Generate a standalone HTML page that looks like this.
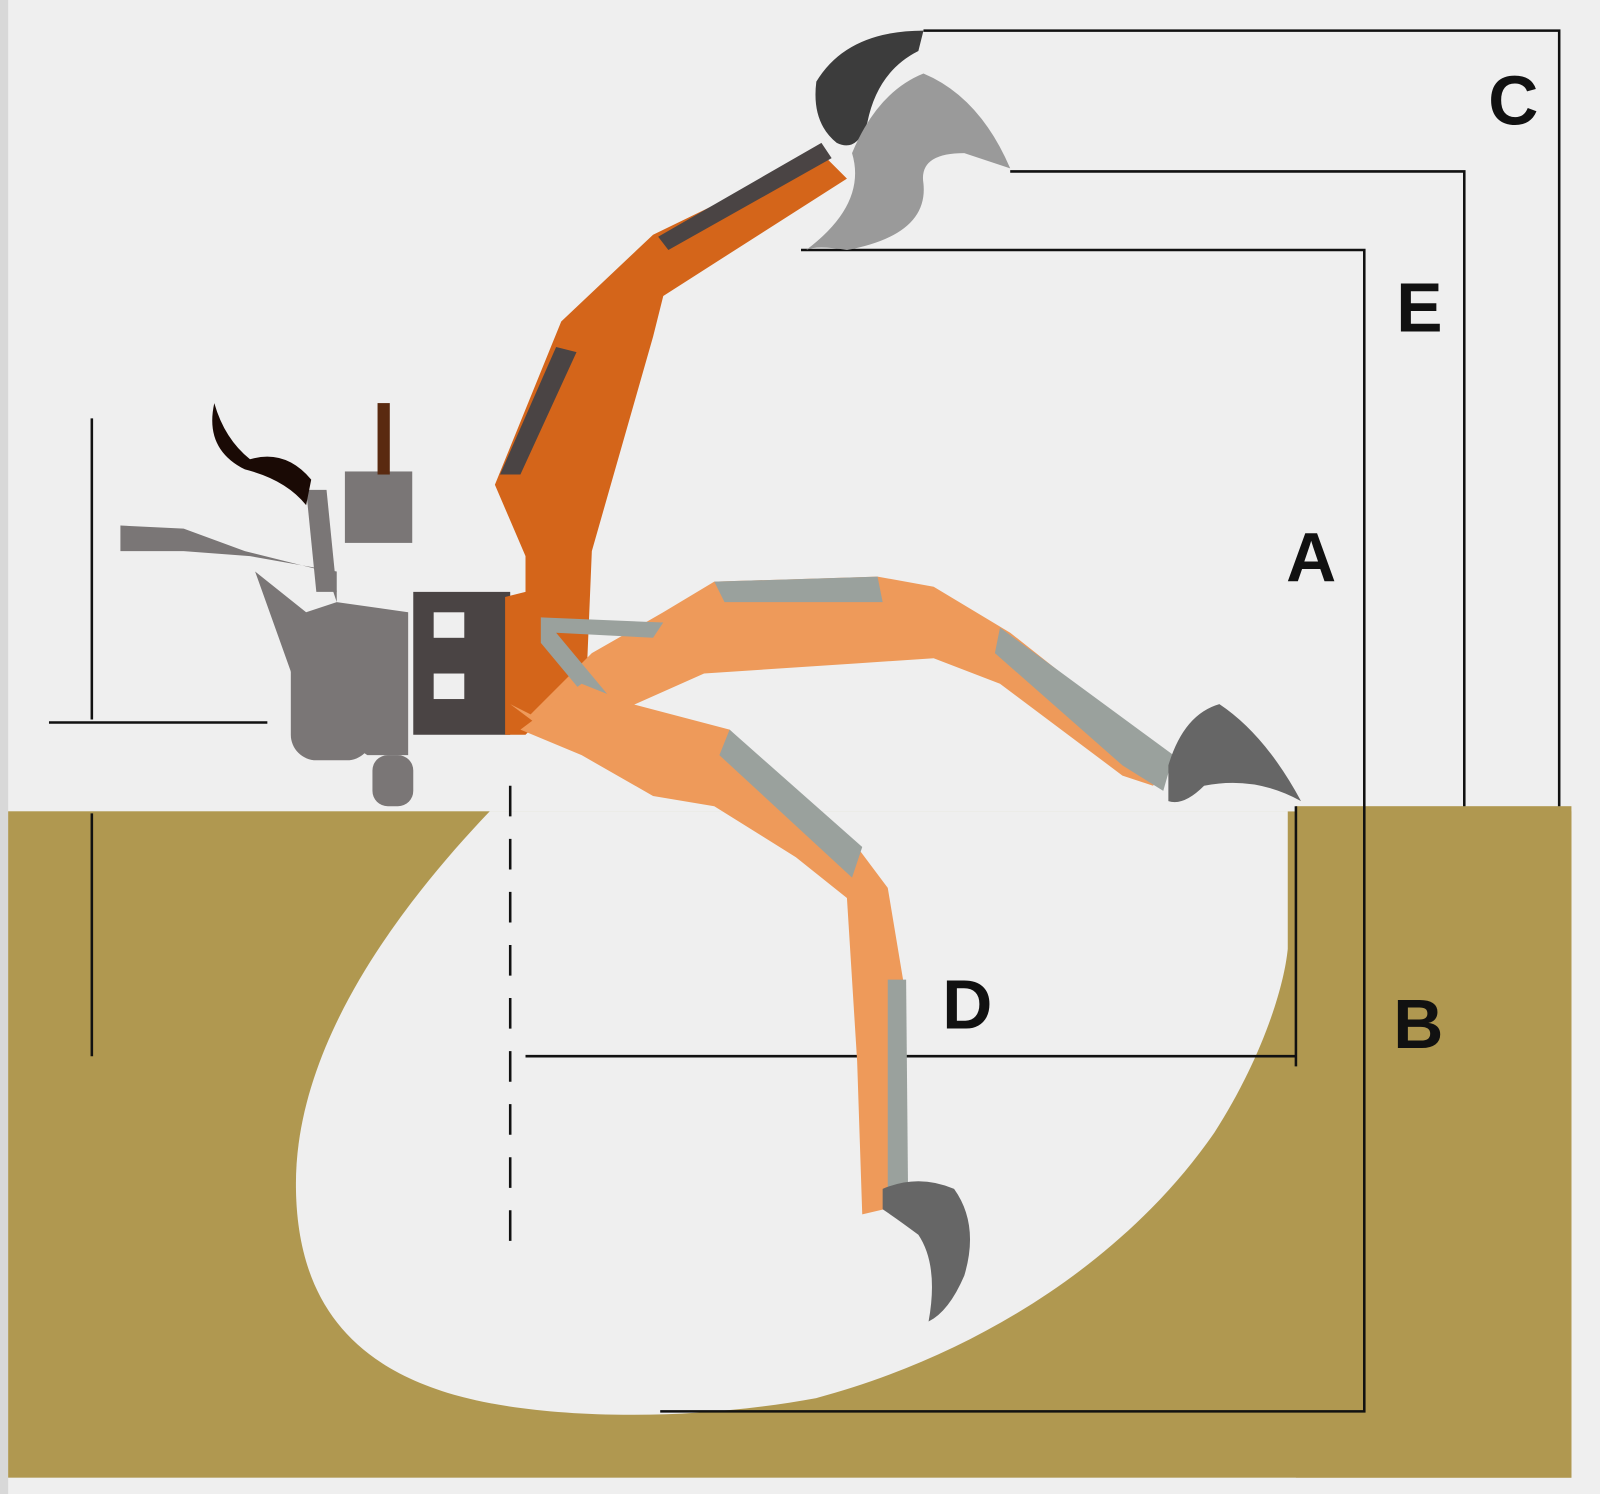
<!DOCTYPE html>
<html><head><style>html,body{margin:0;padding:0;background:#efefef;overflow:hidden;width:1600px;height:1494px}svg{display:block}</style></head>
<body>
<svg width="1600" height="1494" viewBox="0 0 1568 1464" preserveAspectRatio="none" xmlns="http://www.w3.org/2000/svg">
<rect width="1568" height="1464" fill="#efefef"/>
<rect x="0" y="0" width="8" height="1464" fill="#d8d8d8"/>
<!-- ground -->
<rect x="8" y="795" width="1532" height="653" fill="#b09850"/>
<path d="M480,795 C380,900 290,1030 290,1160 C290,1280 350,1350 480,1375 C560,1390 680,1392 800,1370 C950,1330 1100,1240 1190,1110 C1235,1040 1258,970 1262,930 L1262,795 Z" fill="#efefef"/>
<rect x="480" y="700" width="790" height="95" fill="#efefef"/>
<rect x="1270" y="700" width="270" height="90" fill="#efefef"/>
<rect x="1270" y="790" width="270" height="658" fill="#b09850"/>
<!-- dimension lines -->
<g stroke="#111" stroke-width="2.5" fill="none">
<polyline points="905,30 1528,30 1528,790"/>
<polyline points="990,168 1435,168 1435,790"/>
<polyline points="785,245 1337,245 1337,1383 647,1383"/>
<line x1="515" y1="1035" x2="1270" y2="1035"/>
<line x1="1270" y1="790" x2="1270" y2="1045"/>
<line x1="500" y1="770" x2="500" y2="1220" stroke-dasharray="30,22"/>
<line x1="90" y1="410" x2="90" y2="705"/>
<line x1="48" y1="708" x2="262" y2="708"/>
<line x1="90" y1="797" x2="90" y2="1035"/>
</g>
<!-- labels -->
<g font-family="Liberation Sans, sans-serif" font-weight="bold" font-size="68" fill="#111" text-anchor="middle">
<text x="1483" y="122">C</text>
<text x="1391" y="325">E</text>
<text x="1285" y="570">A</text>
<text x="1390" y="1027">B</text>
<text x="948" y="1008">D</text>
</g>
<!-- machine body -->
<g fill="#7a7676">
<polygon points="118,515 180,518 240,540 320,560 330,590 300,600 250,560 300,700 360,740 400,740 400,600 330,590 330,560 245,545 180,540 118,540"/>
<rect x="285" y="605" width="80" height="140" rx="25"/>
<rect x="338" y="462" width="66" height="70"/>
<rect x="365" y="740" width="40" height="50" rx="15"/>
<polygon points="300,480 320,480 330,580 310,580"/>
</g>
<rect x="370" y="395" width="12" height="70" fill="#5a2a10"/>
<path d="M210,395 Q200,440 240,460 Q280,470 300,495 L305,470 Q280,440 245,450 Q220,430 210,395Z" fill="#1a0a05"/>
<rect x="405" y="580" width="95" height="140" fill="#4a4444"/>
<rect x="425" y="600" width="30" height="25" fill="#efefef"/>
<rect x="425" y="660" width="30" height="25" fill="#efefef"/>
<!-- raised arm (dark orange) -->
<polygon points="495,585 515,580 515,545 485,475 550,315 640,230 805,150 830,175 650,290 640,330 580,540 575,660 515,720 495,720" fill="#d4651a"/>
<polygon points="490,465 545,340 565,345 510,465" fill="#4a4444"/>
<polygon points="645,232 805,140 815,155 655,245" fill="#4a4444"/>
<!-- raised bucket -->
<path d="M800,80 Q830,30 905,30 L900,50 Q860,70 850,120 Q840,150 820,140 Q795,120 800,80Z" fill="#3c3c3c"/>
<path d="M835,150 Q860,90 905,72 Q960,95 990,165 L945,150 Q900,150 905,180 Q910,230 830,245 Q800,240 790,245 Q850,200 835,150Z" fill="#9a9a9a"/>
<!-- light arm 1 (to right) -->
<polygon points="500,690 520,700 580,640 650,600 700,570 860,565 915,575 990,620 1110,715 1150,740 1130,770 1100,760 980,670 915,645 840,650 690,660 600,700 540,720" fill="#ee9a5a"/>
<polygon points="700,570 860,565 865,590 710,590" fill="#9aa19d"/>
<polygon points="980,615 1150,740 1140,775 1100,750 975,640" fill="#9aa19d"/>
<polygon points="530,605 650,610 640,625 545,620 620,710 605,720 530,630" fill="#9aa19d"/>
<path d="M1145,750 Q1160,700 1195,690 Q1240,720 1275,785 Q1230,760 1180,770 Q1160,790 1145,785Z" fill="#666"/>
<!-- light arm 2 (down) -->
<polygon points="510,715 570,670 620,690 715,715 760,760 840,830 870,870 885,960 888,1180 845,1190 840,1040 830,880 780,840 700,790 640,780 570,740" fill="#ee9a5a"/>
<polygon points="715,715 845,830 835,860 705,740" fill="#9aa19d"/>
<polygon points="870,960 888,960 890,1180 870,1180" fill="#9aa19d"/>
<path d="M865,1165 Q900,1150 935,1165 Q960,1200 945,1250 Q930,1285 910,1295 Q920,1240 900,1210 Q880,1195 865,1185Z" fill="#666"/>
</svg>
</body></html>
